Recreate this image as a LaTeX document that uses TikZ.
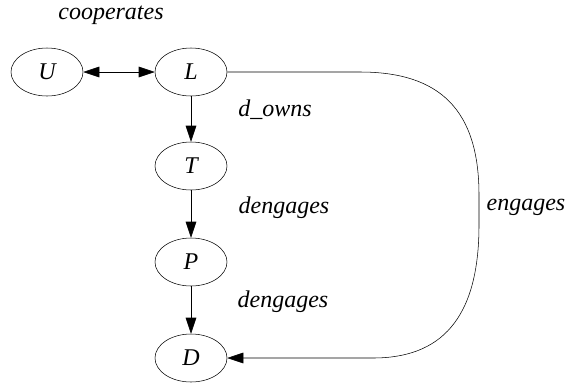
\documentclass[tikz,border=0pt]{standalone}
\usepackage{fontspec}
\setmainfont{Liberation Serif}
\usetikzlibrary{arrows.meta,positioning,shapes.geometric}

\begin{document}
\begin{tikzpicture}[x=0.75pt,y=-0.75pt,every node/.style={font=\fontsize{18}{20}\selectfont\itshape},
  ent/.style={draw,ellipse,minimum width=54pt,minimum height=36pt,inner sep=0pt},
  rel/.style={-{Triangle[length=12pt,width=8pt]}},
  lbl/.style={inner sep=0pt}]
\useasboundingbox (0,0) rectangle (571,386);
\node[ent] (u) at (47,72) {U};\node[ent] (l) at (191,72) {L};
\node[ent] (t) at (191,166) {T};\node[ent] (p) at (191,262) {P};\node[ent] (d) at (191,358) {D};
\draw[{Triangle[length=12pt,width=8pt]}-{Triangle[length=12pt,width=8pt]}] (u)--(l);
\draw[rel] (l)--(t);\draw[rel] (t)--(p);\draw[rel] (p)--(d);
\draw[rel] (l.east)--(360,72) .. controls (440,72) and (479,110) .. (479,195)--(479,225) .. controls (479,320) and (440,358) .. (373,358)--(d.east);
\node[lbl] (c1) at (111,15) {cooperates};\node[lbl] (c2) at (275,110) {d\_owns};
\node[lbl] (c3) at (284,208) {dengages};\node[lbl] (c4) at (283,302) {dengages};
\node[lbl] (c5) at (526,207) {engages};
\end{tikzpicture}
\end{document}
